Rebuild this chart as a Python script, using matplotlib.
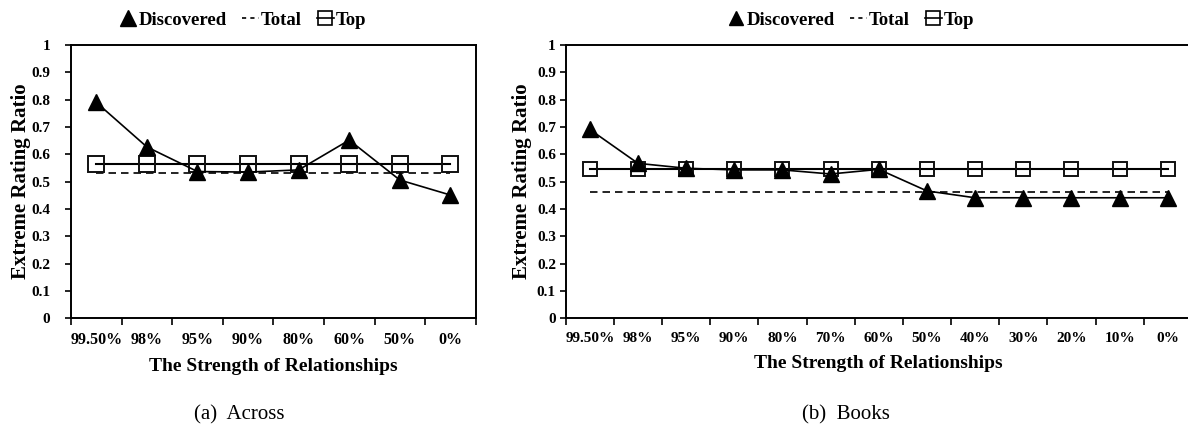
import matplotlib
matplotlib.use("Agg")
import matplotlib.pyplot as plt
from matplotlib.lines import Line2D

plt.rcParams['font.family'] = ['Liberation Serif', 'DejaVu Serif']
plt.rcParams['font.weight'] = 'bold'
plt.rcParams['axes.labelweight'] = 'bold'

# Across
across_labels = ["99.50%", "98%", "95%", "90%", "80%", "60%", "50%", "0%"]
across_discovered = [0.79, 0.627, 0.537, 0.535, 0.543, 0.652, 0.506, 0.451]
across_total = [0.530] * len(across_labels)
across_top = [0.565] * len(across_labels)

# Books
books_labels = ["99.50%", "98%", "95%", "90%", "80%", "70%", "60%",
                "50%", "40%", "30%", "20%", "10%", "0%"]
books_discovered = [0.691, 0.567, 0.549, 0.543, 0.543, 0.528, 0.545,
                    0.466, 0.441, 0.441, 0.441, 0.441, 0.441]
books_total = [0.461] * len(books_labels)
books_top = [0.546] * len(books_labels)

W, H = 1188, 429


def draw(ax, labels, discovered, total, top, tick_fs, ylab_pad, tri_ms, sq_ms):
    x = list(range(len(labels)))
    ax.plot(x, top, color='black', lw=1.5, marker='s', ms=sq_ms,
            mfc='none', mec='#111111', mew=1.4, zorder=3)
    ax.plot(x, total, color='black', lw=1.2, dashes=(4.5, 3), zorder=2)
    ax.plot(x, discovered, color='black', lw=1.2, marker='^', ms=tri_ms,
            mfc='black', mec='black', zorder=4)

    ax.set_xlim(-0.5, len(labels) - 0.5)
    ax.set_ylim(0, 1)
    ax.set_yticks([i / 10 for i in range(11)])
    ax.set_yticklabels(["0"] + ["0.%d" % i for i in range(1, 10)] + ["1"])
    ax.set_xticks(x)
    ax.set_xticklabels(labels)
    ax.set_xticks([i - 0.5 for i in range(len(labels) + 1)], minor=True)
    ax.tick_params(axis='x', which='major', length=0, pad=10,
                   labelsize=tick_fs)
    ax.tick_params(axis='x', which='minor', length=5, width=1.2,
                   direction='out')
    ax.tick_params(axis='y', length=4, width=1.2, direction='out',
                   pad=ylab_pad, labelsize=11)
    for s in ax.spines.values():
        s.set_linewidth(1.4)

    ax.set_xlabel("The Strength of Relationships", fontsize=14,
                  fontweight='bold', labelpad=7)
    ax.set_ylabel("Extreme Rating Ratio", fontsize=15, fontweight='bold')

    handles = [
        Line2D([], [], color='black', marker='^', ms=tri_ms - 1, ls='none'),
        Line2D([], [], color='black', lw=1.2, dashes=(2.5, 2.5)),
        Line2D([], [], color='black', lw=1.2, marker='s', ms=sq_ms - 1,
               mfc='none', mew=1.2),
    ]
    return handles


fig = plt.figure(figsize=(W / 100, H / 100), dpi=100)

ax1 = fig.add_axes([71 / W, 1 - 318.3 / H, 404.7 / W, 273.3 / H])
ax2 = fig.add_axes([565.7 / W, 1 - 318.3 / H, 626.2 / W, 273.3 / H])

h1 = draw(ax1, across_labels, across_discovered, across_total, across_top,
          11.5, 11, 12, 11.5)
h2 = draw(ax2, books_labels, books_discovered, books_total, books_top,
          11, 3, 11, 10.5)
ax1.yaxis.set_label_coords(-0.099, 0.5)
ax2.yaxis.set_label_coords(-0.054, 0.5)

names = ["Discovered", "Total", "Top"]
for handles, cx in [(h1, 243), (h2, 851)]:
    fig.legend(handles, names, loc='center', bbox_to_anchor=(cx / W, 1 - 20 / H),
               ncol=3, frameon=False, fontsize=13.5, handlelength=0.9,
               handletextpad=0.1, columnspacing=0.8, borderpad=0)

fig.text(239 / W, 1 - 415 / H, "(a)  Across", ha='center', va='center',
         fontsize=15, fontweight='normal')
fig.text(846 / W, 1 - 415 / H, "(b)  Books", ha='center', va='center',
         fontsize=15, fontweight='normal')

fig.savefig("out.png", dpi=100)
